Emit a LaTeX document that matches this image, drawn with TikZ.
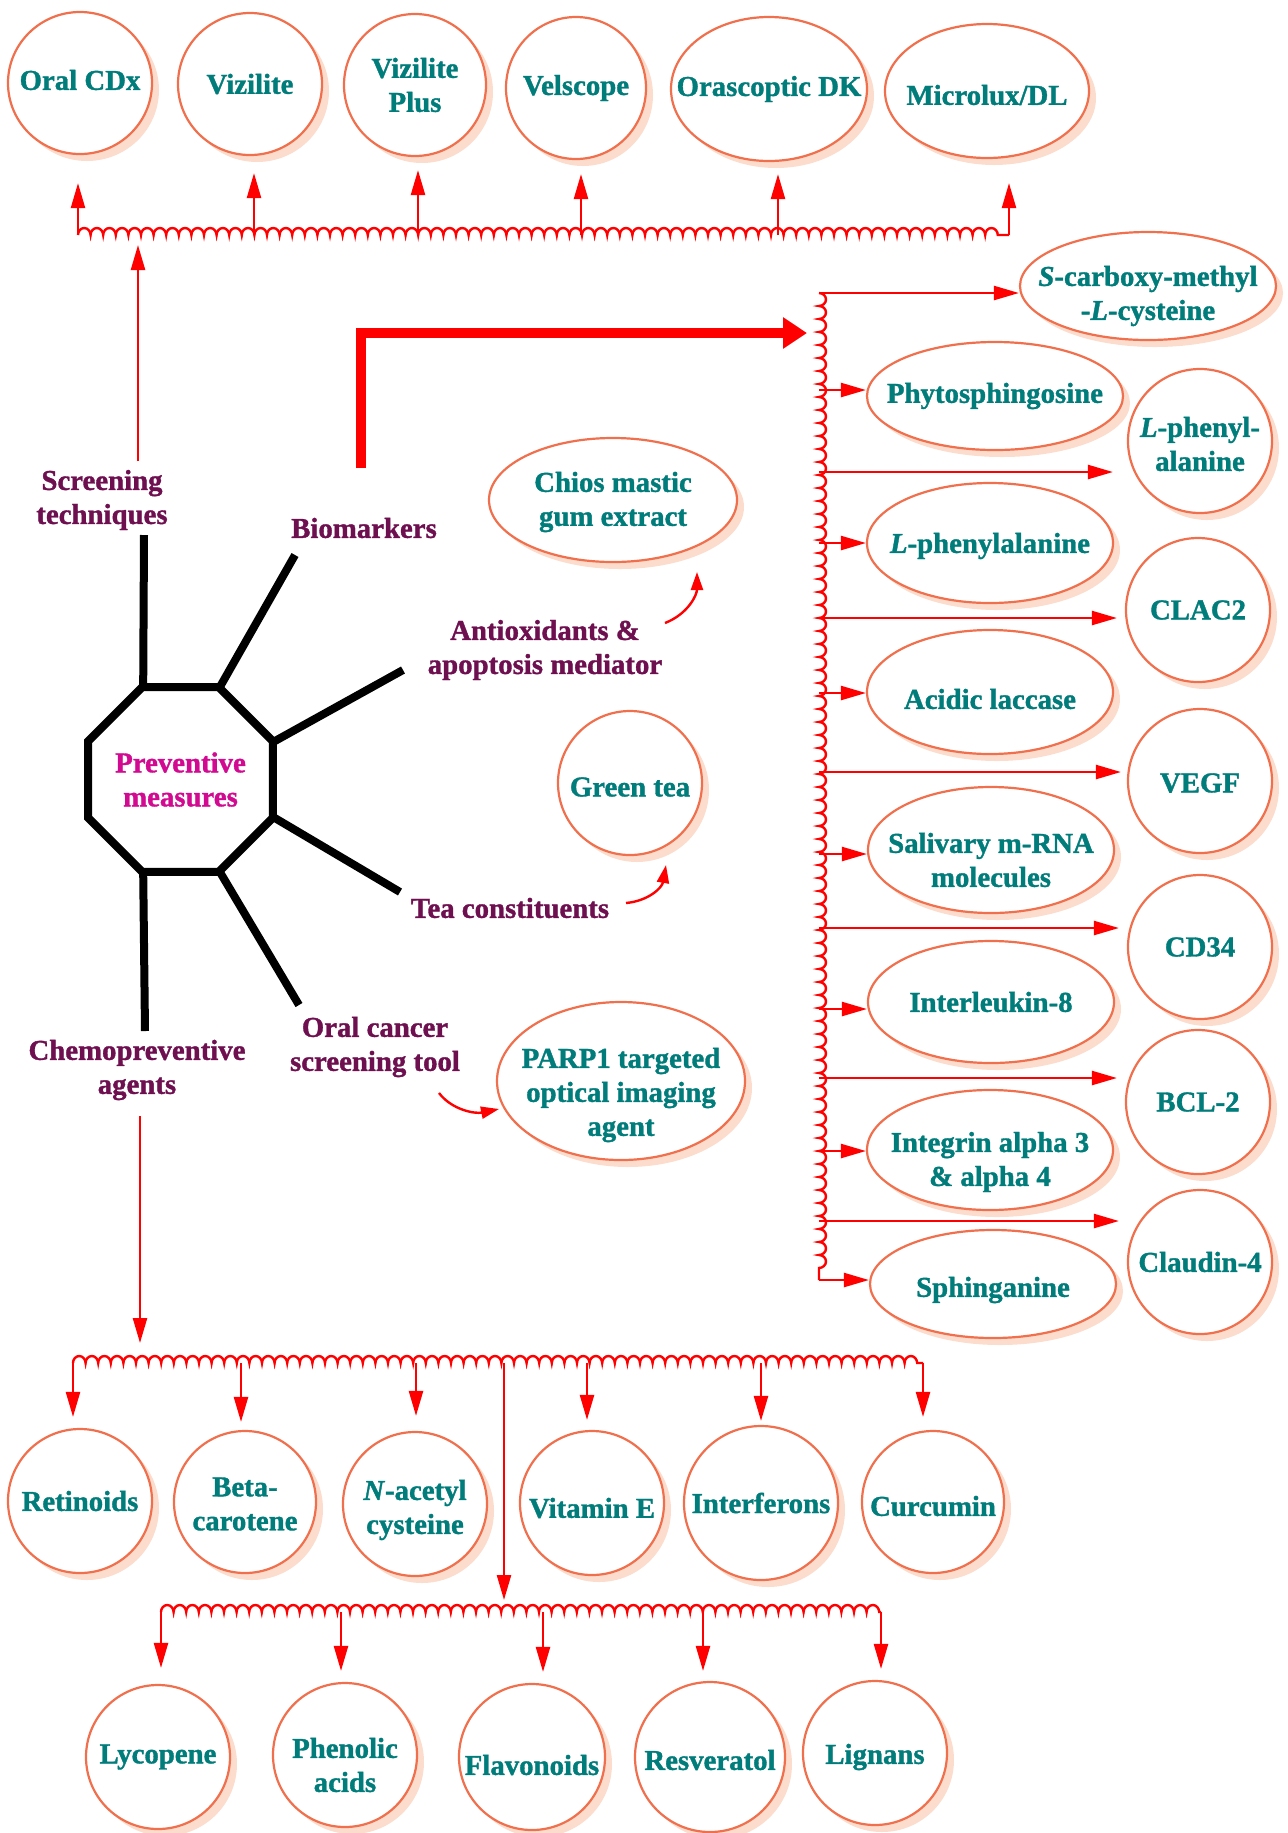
\documentclass[tikz,border=0pt]{standalone}
\usepackage{fontspec}
\setmainfont{Liberation Serif}[BoldFeatures={FakeBold=1.2},BoldItalicFeatures={FakeBold=1.2}]
\usetikzlibrary{arrows.meta,decorations.pathmorphing,shadows,shapes.geometric,calc}
\definecolor{tealtx}{RGB}{0,124,122}
\definecolor{plum}{RGB}{110,15,80}
\definecolor{magen}{RGB}{210,10,145}
\definecolor{coral}{RGB}{240,112,78}
\definecolor{peach}{RGB}{252,220,204}
\definecolor{arrred}{RGB}{255,0,0}
\tikzset{
  ov/.style={ellipse, draw=coral, line width=1.1pt, fill=white, inner sep=0pt,
    general shadow={fill=peach, shadow xshift=3.5pt, shadow yshift=-3.5pt}},
  ovtext/.style={text=tealtx, font=\fontsize{14.4}{17}\selectfont\bfseries, align=center, inner sep=0pt},
  lbl/.style={text=plum, font=\fontsize{14.4}{17}\selectfont\bfseries, align=center, inner sep=0pt},
  arr/.style={draw=arrred, line width=1.2pt, -{Triangle[length=12.5pt,width=7pt]}},
  carr/.style={draw=arrred, line width=1.2pt, -{Triangle[length=9pt,width=6pt]}},
  hwavy/.style={draw=arrred, line width=1.2pt, decorate, decoration={bumps, amplitude=3.5pt, segment length=12.6pt}},
  vwavy/.style={draw=arrred, line width=1.2pt, decorate, decoration={bumps, amplitude=3.5pt, segment length=13pt}},
  spoke/.style={draw=black, line width=4pt},
}
\newcommand\ovn[7]{\node[ov, minimum width=#4pt, minimum height=#5pt] (#1) at (#2,#3) {};
  \node[ovtext] (#1t) at ($(#1)+(0,#6)$) {#7};}
\begin{document}
\begin{tikzpicture}[x=0.5pt,y=-0.5pt]
\useasboundingbox (0,0) rectangle (1287,1833);
% ---------- top row
\ovn{ocdx}{80}{83}{72}{71}{-3}{Oral CDx}
\ovn{viz}{250}{84}{72}{71}{0}{Vizilite}
\ovn{vizp}{415}{85}{71}{71}{0}{Vizilite\\Plus}
\ovn{vel}{576}{88}{70}{71}{0}{Velscope}
\ovn{ora}{769}{89}{98}{72}{0}{Orascoptic DK}
\ovn{micro}{987}{91}{102}{67}{4}{Microlux/DL}
\coordinate (tw1) at (78,235);
\coordinate (tw2) at (254,235);
\coordinate (tw3) at (418,235);
\coordinate (tw4) at (581,235);
\coordinate (tw5) at (778,235);
\coordinate (tw6) at (1009,235);
\draw[hwavy] (tw1) -- (tw6);
\draw[arr, shorten >=14pt] (tw1) -- (tw1 |- ocdx.south);
\draw[arr, shorten >=8.5pt] (tw2) -- (tw2 |- viz.south);
\draw[arr, shorten >=6.5pt] (tw3) -- (tw3 |- vizp.south);
\draw[arr, shorten >=7pt] (tw4) -- (tw4 |- vel.south);
\draw[arr, shorten >=6pt] (tw5) -- (tw5 |- ora.south);
\draw[arr, shorten >=12pt] (tw6) -- (tw6 |- micro.south);
% ---------- right column
\ovn{scm}{1148}{286}{128}{54}{10}{\textit{S}-carboxy-methyl\\-\textit{L}-cysteine}
\ovn{phyto}{995}{396}{128}{54}{0}{Phytosphingosine}
\ovn{lphc}{1200}{441}{72}{72}{3}{\textit{L}-phenyl-\\alanine}
\ovn{lphe}{990}{543}{123}{60}{3}{\textit{L}-phenylalanine}
\ovn{clac}{1198}{610}{72}{72}{0}{CLAC2}
\ovn{acid}{990}{692}{123}{62}{7}{Acidic laccase}
\ovn{vegf}{1200}{781}{72}{72}{2}{VEGF}
\ovn{sal}{991}{850}{123}{63}{10}{Salivary m-RNA\\molecules}
\ovn{cd34}{1200}{947}{72}{72}{0}{CD34}
\ovn{il8}{991}{1002}{123}{61}{0}{Interleukin-8}
\ovn{bcl}{1198}{1102}{72}{72}{0}{BCL-2}
\ovn{integ}{990}{1150}{123}{60}{12}{Integrin alpha 3\\\& alpha 4}
\ovn{claud}{1200}{1262}{72}{72}{0}{Claudin-4}
\ovn{sphing}{993}{1284}{123}{54}{6}{Sphinganine}
\coordinate (rw1) at (819,293);
\coordinate (rw2) at (819,390);
\coordinate (rw3) at (819,472);
\coordinate (rw4) at (819,543);
\coordinate (rw5) at (819,618);
\coordinate (rw6) at (819,693);
\coordinate (rw7) at (819,772);
\coordinate (rw8) at (819,854);
\coordinate (rw9) at (819,928);
\coordinate (rw10) at (819,1009);
\coordinate (rw11) at (819,1078);
\coordinate (rw12) at (819,1151);
\coordinate (rw13) at (819,1221);
\coordinate (rw14) at (819,1280);
\draw[vwavy] (rw1) -- (rw14);
\draw[arr] (rw1) -- (rw1 -| scm.west);
\draw[arr] (rw2) -- (rw2 -| phyto.west);
\draw[arr, shorten >=7pt] (rw3) -- (rw3 -| lphc.west);
\draw[arr] (rw4) -- (rw4 -| lphe.west);
\draw[arr, shorten >=4pt] (rw5) -- (rw5 -| clac.west);
\draw[arr] (rw6) -- (rw6 -| acid.west);
\draw[arr, shorten >=3pt] (rw7) -- (rw7 -| vegf.west);
\draw[arr] (rw8) -- (rw8 -| sal.west);
\draw[arr, shorten >=4pt] (rw9) -- (rw9 -| cd34.west);
\draw[arr] (rw10) -- (rw10 -| il8.west);
\draw[arr, shorten >=4pt] (rw11) -- (rw11 -| bcl.west);
\draw[arr] (rw12) -- (rw12 -| integ.west);
\draw[arr, shorten >=4pt] (rw13) -- (rw13 -| claud.west);
\draw[arr] (rw14) -- (rw14 -| sphing.west);
% ---------- centre hub
\node[regular polygon, regular polygon sides=8, minimum size=95.5pt, draw=black,
  line width=4pt, line join=miter, inner sep=0pt, outer sep=0pt, text=magen,
  font=\fontsize{14.4}{17}\selectfont\bfseries, align=center] (prev) at (180.5,779.5) {Preventive\\measures};
\coordinate (s1) at (144,535);
\coordinate (s2) at (295,555);
\coordinate (s3) at (403,670);
\coordinate (s4) at (400,892);
\coordinate (s5) at (299,1005);
\coordinate (s6) at (145,1031);
\draw[spoke] (prev.112.5) -- (s1);
\draw[spoke] (prev.67.5) -- (s2);
\draw[spoke] (prev.22.5) -- (s3);
\draw[spoke] (prev.-22.5) -- (s4);
\draw[spoke] (prev.-67.5) -- (s5);
\draw[spoke] (prev.-112.5) -- (s6);
\node[lbl] (screen) at (102,500) {Screening\\techniques};
\node[lbl] (bio) at (364,528) {Biomarkers};
\node[lbl] (antiox) at (545,650) {Antioxidants \&\\apoptosis mediator};
\node[lbl] (teac) at (510,908) {Tea constituents};
\node[lbl] (oralc) at (375,1047) {Oral cancer\\screening tool};
\node[lbl] (chemo) at (137,1070) {Chemopreventive\\agents};
% ---------- middle nodes
\ovn{chios}{613}{500}{124}{62}{2}{Chios mastic\\gum extract}
\ovn{gtea}{630}{783}{72}{72}{4}{Green tea}
\ovn{parp}{621}{1081}{124}{79}{14}{PARP1 targeted\\optical imaging\\agent}
\coordinate (ax1) at (665,623);
\coordinate (ax2) at (697,572);
\draw[carr] (ax1) .. controls (688,614) and (697,595) .. (ax2);
\coordinate (tx1) at (626,903);
\coordinate (tx2) at (666,865);
\draw[carr] (tx1) .. controls (648,901) and (662,888) .. (tx2);
\coordinate (ox1) at (439,1093);
\coordinate (ox2) at (499,1109);
\draw[carr] (ox1) .. controls (452,1110) and (475,1114) .. (ox2);
% screening arrow
\coordinate (sa) at (138,461);
\coordinate (sb) at (138,245);
\draw[arr] (sa) -- (sb);
% biomarker thick arrow
\coordinate (ba1) at (361,468);
\coordinate (ba2) at (361,333);
\coordinate (ba3) at (807,333);
\draw[draw=arrred, line width=5pt, line join=miter, -{Triangle[length=12pt,width=15pt]}] (ba1) -- (ba2) -- (ba3);
% ---------- bottom first row
\ovn{retin}{80}{1501}{72}{72}{0}{Retinoids}
\ovn{beta}{245}{1502}{71}{71}{2}{Beta-\\carotene}
\ovn{nac}{415}{1504}{72}{72}{6}{\textit{N}-acetyl\\cysteine}
\ovn{vite}{592}{1503}{72}{72}{5}{Vitamin E}
\ovn{interf}{761}{1503}{77}{77}{0}{Interferons}
\ovn{curc}{933}{1502}{71}{71}{4}{Curcumin}
\coordinate (ca) at (140,1116);
\coordinate (cb) at (140,1343);
\draw[arr] (ca) -- (cb);
\coordinate (bw1) at (73,1363);
\coordinate (bw2) at (241,1363);
\coordinate (bw3) at (416,1363);
\coordinate (bwm) at (504,1363);
\coordinate (bw4) at (587,1363);
\coordinate (bw5) at (761,1363);
\coordinate (bw6) at (923,1363);
\draw[hwavy] (bw1) -- (bw6);
\draw[arr, shorten >=5.5pt] (bw1) -- (bw1 |- retin.north);
\draw[arr, shorten >=4pt] (bw2) -- (bw2 |- beta.north);
\draw[arr, shorten >=7.5pt] (bw3) -- (bw3 |- nac.north);
\draw[arr, shorten >=5pt] (bw4) -- (bw4 |- vite.north);
\draw[arr, shorten >=2pt] (bw5) -- (bw5 |- interf.north);
\draw[arr, shorten >=6.5pt] (bw6) -- (bw6 |- curc.north);
% ---------- bottom second row
\ovn{lyco}{158}{1757}{72}{72}{0}{Lycopene}
\ovn{phen}{345}{1755}{72}{72}{10}{Phenolic\\acids}
\ovn{flav}{532}{1757}{73}{73}{8}{Flavonoids}
\ovn{resv}{710}{1757}{75}{75}{3}{Resveratol}
\ovn{lign}{875}{1753}{72}{72}{4}{Lignans}
\coordinate (cw1) at (161,1612);
\coordinate (cw2) at (341,1612);
\coordinate (cw3) at (543,1612);
\coordinate (cw4) at (703,1612);
\coordinate (cw5) at (881,1612);
\coordinate (bwe) at (504,1600);
\draw[arr] (bwm) -- (bwe);
\draw[hwavy] (cw1) -- (cw5);
\draw[arr, shorten >=8pt] (cw1) -- (cw1 |- lyco.north);
\draw[arr, shorten >=5.5pt] (cw2) -- (cw2 |- phen.north);
\draw[arr, shorten >=5.5pt] (cw3) -- (cw3 |- flav.north);
\draw[arr, shorten >=5pt] (cw4) -- (cw4 |- resv.north);
\draw[arr, shorten >=5.5pt] (cw5) -- (cw5 |- lign.north);
\end{tikzpicture}
\end{document}
